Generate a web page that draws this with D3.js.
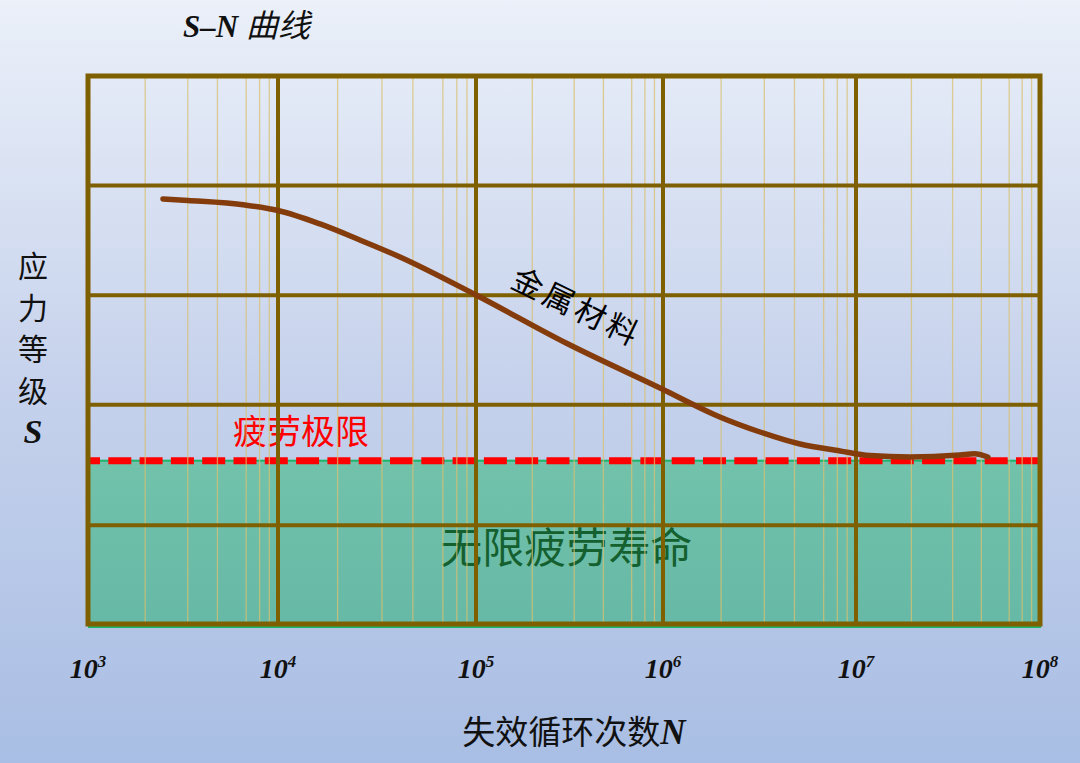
<!DOCTYPE html>
<html>
<head>
<meta charset="utf-8">
<script src="https://cdn.jsdelivr.net/npm/d3@7"></script>
<style>
html,body{margin:0;padding:0;overflow:hidden;}
svg{display:block;}
</style>
</head>
<body>
<svg id="chart" width="1080" height="763"></svg>
<script>
// ---------- data ----------
const decades = [1e3, 1e4, 1e5, 1e6, 1e7, 1e8];
const decadeExp = ["3", "4", "5", "6", "7", "8"];
const minorMultipliers = [2, 3.35, 4.8, 6.8, 8, 9];
const stressGrid = [0, 0.9, 2, 3, 4, 5];
const fatigueLimit = 1.49;
const curveN = [2480, 3360, 6700, 1e4, 16300, 25900, 41300, 1e5, 305000, 964000, 1.97e6, 3.18e6, 5.13e6, 8.26e6, 1.19e7, 1.96e7, 3.67e7, 4.4e7, 5.21e7];
const curveS = [3.878, 3.864, 3.823, 3.773, 3.65, 3.504, 3.349, 3.002, 2.561, 2.153, 1.889, 1.752, 1.642, 1.579, 1.537, 1.524, 1.542, 1.553, 1.524];
const titleParts = ["S", "–N ", "曲线"];
const xLabelText = "失效循环次数";
const xLabelVar = "N";
const yLabelChars = ["应", "力", "等", "级", "S"];
const limitLabel = "疲劳极限";
const infiniteLabel = "无限疲劳寿命";
const curveLabel = "金属材料";

// ---------- setup ----------
const W = 1080, H = 763;
const svg = d3.select("#chart");
const CJK = "'Noto Sans CJK SC', 'Noto Sans', sans-serif";
const SERIF = "'Liberation Serif', 'DejaVu Serif', serif";

const x = d3.scaleLog().domain(decades).range([88, 278, 476, 663, 856, 1040]);
const y = d3.scaleLinear().domain([0, 5]).range([624, 76]);

const defs = svg.append("defs");
const bg = defs.append("linearGradient").attr("id", "bg").attr("x1", 0).attr("y1", 0).attr("x2", 0).attr("y2", 1);
bg.append("stop").attr("offset", "0%").attr("stop-color", "#ebf0f9");
bg.append("stop").attr("offset", "50%").attr("stop-color", "#c6d2ec");
bg.append("stop").attr("offset", "100%").attr("stop-color", "#a9bee4");
const tg = defs.append("linearGradient").attr("id", "teal").attr("x1", 0).attr("y1", 0).attr("x2", 0).attr("y2", 1);
tg.append("stop").attr("offset", "0%").attr("stop-color", "#72c2ab");
tg.append("stop").attr("offset", "100%").attr("stop-color", "#66b9a6");

svg.append("rect").attr("width", W).attr("height", H).attr("fill", "url(#bg)");

const xMin = x(decades[0]), xMax = x(decades[decades.length - 1]);
const yTop = y(5), yBot = y(0);

// infinite life region
svg.append("rect")
  .attr("x", xMin + 1).attr("y", y(fatigueLimit))
  .attr("width", xMax - xMin - 1).attr("height", yBot - y(fatigueLimit) + 3)
  .attr("fill", "url(#teal)")
  .attr("stroke", "#1fb36a").attr("stroke-width", 2);

// in-plot labels (below grid)
svg.append("text")
  .attr("x", x(1e4) + 23).attr("y", y(fatigueLimit) - 17)
  .attr("text-anchor", "middle")
  .attr("font-family", CJK).attr("font-size", 34).attr("fill", "#ff0000")
  .text(limitLabel);

svg.append("text")
  .attr("x", x(3e5) + 1).attr("y", y(0.55) - 1)
  .attr("text-anchor", "middle")
  .attr("font-family", CJK).attr("font-size", 42).attr("fill", "#14602f")
  .text(infiniteLabel);

// fatigue limit dashed line
svg.append("line")
  .attr("x1", xMin).attr("x2", xMax)
  .attr("y1", y(fatigueLimit)).attr("y2", y(fatigueLimit))
  .attr("stroke", "#ff0000").attr("stroke-width", 7)
  .attr("stroke-dasharray", "23 8.3").attr("stroke-dashoffset", 11);

// minor verticals
const minorTicks = [];
decades.slice(0, -1).forEach(d => minorMultipliers.forEach(m => minorTicks.push(d * m)));
svg.append("g").selectAll("line").data(minorTicks).join("line")
  .attr("x1", d => x(d)).attr("x2", d => x(d))
  .attr("y1", yTop).attr("y2", yBot)
  .attr("stroke", "#d8c070").attr("stroke-opacity", 0.75).attr("stroke-width", 1.3);

// major verticals
svg.append("g").selectAll("line").data(decades.slice(1, -1)).join("line")
  .attr("x1", d => x(d)).attr("x2", d => x(d))
  .attr("y1", yTop).attr("y2", yBot)
  .attr("stroke", "#7f6000").attr("stroke-width", 4);

// horizontal grid
svg.append("g").selectAll("line").data(stressGrid.slice(1, -1)).join("line")
  .attr("x1", xMin).attr("x2", xMax)
  .attr("y1", d => y(d)).attr("y2", d => y(d))
  .attr("stroke", "#7f6000").attr("stroke-width", 4);

// border
svg.append("rect")
  .attr("x", xMin).attr("y", yTop)
  .attr("width", xMax - xMin).attr("height", yBot - yTop)
  .attr("fill", "none").attr("stroke", "#7f6000").attr("stroke-width", 5);

// S-N curve
const curveData = curveN.map((n, i) => [n, curveS[i]]);
svg.append("path")
  .datum(curveData)
  .attr("d", d3.line().x(d => x(d[0])).y(d => y(d[1])).curve(d3.curveMonotoneX))
  .attr("fill", "none").attr("stroke", "#843c0c").attr("stroke-width", 5.5)
  .attr("stroke-linecap", "round").attr("stroke-linejoin", "round");

// curve label
svg.append("text")
  .attr("transform", `translate(${x(3.5e5)},${y(2.91)}) rotate(26)`)
  .attr("text-anchor", "middle").attr("dominant-baseline", "central")
  .attr("font-family", CJK).attr("font-size", 31).attr("letter-spacing", 4)
  .attr("fill", "#000")
  .text(curveLabel);

// x tick labels
const tickG = svg.append("g");
decades.forEach((d, i) => {
  const t = tickG.append("text")
    .attr("x", x(d)).attr("y", 678)
    .attr("text-anchor", "middle")
    .attr("font-family", SERIF).attr("font-weight", "bold").attr("font-style", "italic")
    .attr("font-size", 28).attr("fill", "#111");
  t.append("tspan").text("10");
  t.append("tspan").attr("dy", -11).attr("font-size", 17).text(decadeExp[i]);
});

// title
const title = svg.append("text")
  .attr("x", 183).attr("y", 37)
  .attr("font-size", 31).attr("font-weight", "bold").attr("font-style", "italic").attr("fill", "#111");
title.append("tspan").attr("font-family", SERIF).text(titleParts[0]);
title.append("tspan").attr("font-family", SERIF).text(titleParts[1]);
title.append("tspan").attr("font-family", CJK).attr("font-size", 32).attr("font-weight", "normal").text(titleParts[2]);

// x label
const xl = svg.append("text")
  .attr("x", 574).attr("y", 744)
  .attr("text-anchor", "middle").attr("fill", "#111");
xl.append("tspan").attr("font-family", CJK).attr("font-size", 33).text(xLabelText);
xl.append("tspan").attr("font-family", SERIF).attr("font-size", 35)
  .attr("font-weight", "bold").attr("font-style", "italic").text(xLabelVar);

// y label (stacked)
svg.append("g").selectAll("text").data(yLabelChars).join("text")
  .attr("x", 33).attr("y", (d, i) => 277 + i * 41.5)
  .attr("text-anchor", "middle")
  .attr("font-family", (d, i) => i === yLabelChars.length - 1 ? SERIF : CJK)
  .attr("font-weight", (d, i) => i === yLabelChars.length - 1 ? "bold" : "normal")
  .attr("font-style", (d, i) => i === yLabelChars.length - 1 ? "italic" : "normal")
  .attr("font-size", (d, i) => i === yLabelChars.length - 1 ? 34 : 30)
  .attr("fill", "#111")
  .text(d => d);
</script>
</body>
</html>
